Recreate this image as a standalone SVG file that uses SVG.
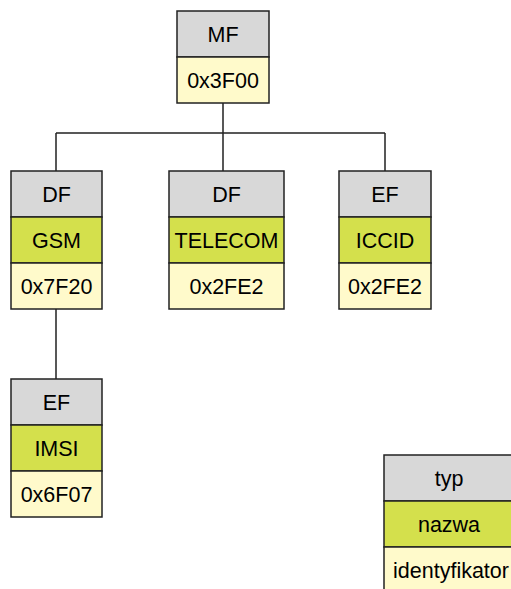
<svg xmlns="http://www.w3.org/2000/svg" width="511" height="589" viewBox="0 0 511 589">
<style>
.t{fill:#d8d8d8;stroke:#222;stroke-width:1.5}
.n{fill:#d4e04c;stroke:#222;stroke-width:1.5}
.i{fill:#fffacb;stroke:#222;stroke-width:1.5}
text{font-family:"Liberation Sans",Arial,sans-serif;font-size:21.5px;fill:#000;text-anchor:middle}
.c{fill:none;stroke:#222;stroke-width:1.5}
</style>
<rect width="511" height="589" fill="#fff"/>
<g id="connectors">
<path class="c" d="M223 103V133M56 133H385M56 133V171M223 133V171M385 133V171M56 309V379"/>
</g>
<g id="mf">
<rect class="t" x="177" y="11" width="92" height="46"/>
<rect class="i" x="177" y="57" width="92" height="46"/>
<text x="223" y="41.5">MF</text>
<text x="223" y="87.5">0x3F00</text>
</g>
<g id="gsm">
<rect class="t" x="11" y="171" width="91" height="46"/>
<rect class="n" x="11" y="217" width="91" height="46"/>
<rect class="i" x="11" y="263" width="91" height="46"/>
<text x="56.5" y="201.5">DF</text>
<text x="56.5" y="247.5">GSM</text>
<text x="56.5" y="293.5">0x7F20</text>
</g>
<g id="telecom">
<rect class="t" x="169" y="171" width="115" height="46"/>
<rect class="n" x="169" y="217" width="115" height="46"/>
<rect class="i" x="169" y="263" width="115" height="46"/>
<text x="226.5" y="201.5">DF</text>
<text x="226.5" y="247.5">TELECOM</text>
<text x="226.5" y="293.5">0x2FE2</text>
</g>
<g id="iccid">
<rect class="t" x="339" y="171" width="92" height="46"/>
<rect class="n" x="339" y="217" width="92" height="46"/>
<rect class="i" x="339" y="263" width="92" height="46"/>
<text x="385" y="201.5">EF</text>
<text x="385" y="247.5">ICCID</text>
<text x="385" y="293.5">0x2FE2</text>
</g>
<g id="imsi">
<rect class="t" x="11" y="379" width="91" height="46"/>
<rect class="n" x="11" y="425" width="91" height="46"/>
<rect class="i" x="11" y="471" width="91" height="46"/>
<text x="56.5" y="409.5">EF</text>
<text x="56.5" y="455.5">IMSI</text>
<text x="56.5" y="501.5">0x6F07</text>
</g>
<g id="legend">
<rect class="t" x="384" y="455" width="130" height="46"/>
<rect class="n" x="384" y="501" width="130" height="46"/>
<rect class="i" x="384" y="547" width="130" height="46"/>
<text x="449" y="485.5">typ</text>
<text x="449" y="531.5">nazwa</text>
<text x="451" y="577.5">identyfikator</text>
</g>
</svg>
